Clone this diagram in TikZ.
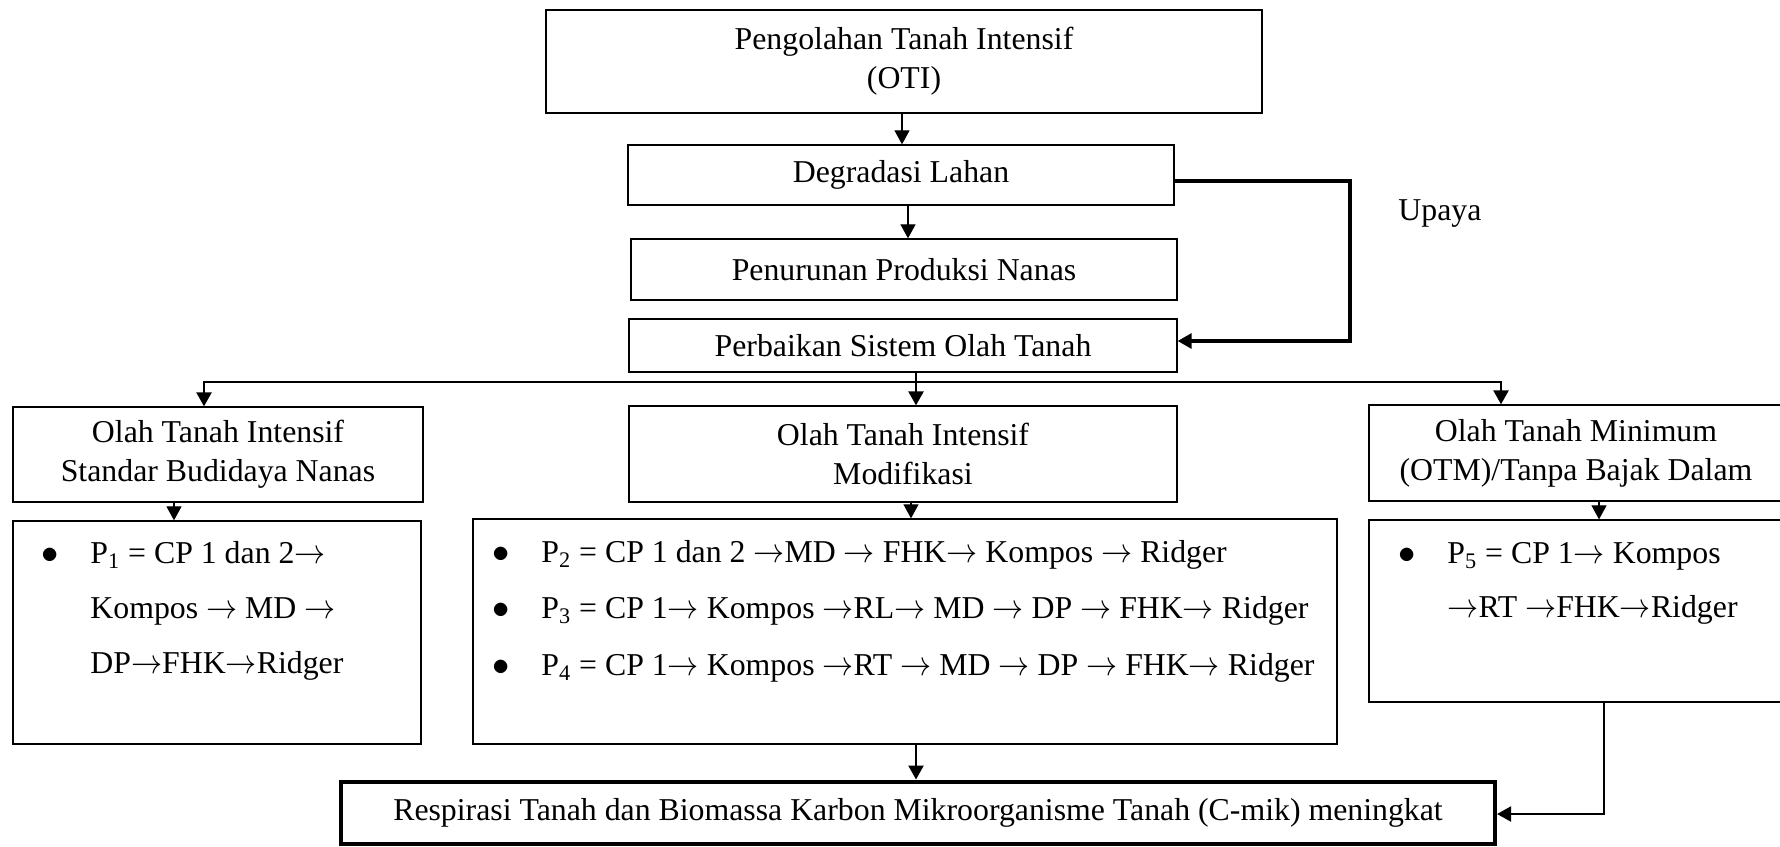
\documentclass[tikz,border=0pt]{standalone}
\usepackage{fontspec}
\usepackage{graphicx}
\setmainfont{Liberation Serif}
\usetikzlibrary{arrows.meta,calc}
\newcommand\dfont{\fontsize{15.9}{19.5}\selectfont}
\newcommand\ra{\scalebox{0.9}[1]{$\rightarrow$}}
\tikzset{
  bx/.style={draw, line width=0.65pt, inner sep=0pt, align=center, font=\dfont},
  txt/.style={inner sep=0pt, anchor=base west, font=\dfont},
  tip/.style={-{Triangle[length=7pt,width=7.5pt]}},
  thin/.style={line width=0.6pt},
  bus/.style={line width=1.2pt},
  loop/.style={line width=1.6pt},
}
\begin{document}
\begin{tikzpicture}[x=0.5pt,y=-0.5pt]
\useasboundingbox (0,0) rectangle (1780,846);
% boxes
\node[bx, minimum width=358pt, minimum height=51.5pt] (oti) at (904,61.5) {Pengolahan Tanah Intensif\\(OTI)};
\node[bx, minimum width=273pt, minimum height=30pt] (deg) at (901,175) {Degradasi Lahan};
\node[bx, minimum width=273pt, minimum height=30.5pt] (pen) at (904,269.5) {Penurunan Produksi Nanas};
\node[bx, minimum width=274pt, minimum height=26.5pt] (per) at (903,345.5) {Perbaikan Sistem Olah Tanah};
\node[bx, minimum width=205pt, minimum height=47.5pt] (std) at (218,454.5) {Olah Tanah Intensif\\Standar Budidaya Nanas};
\node[bx, minimum width=274pt, minimum height=48pt] (mod) at (903,454) {Olah Tanah Intensif\\Modifikasi};
\node[bx, minimum width=207pt, minimum height=48pt] (otm) at (1576,453) {Olah Tanah Minimum\\(OTM)/Tanpa Bajak Dalam};
\node[bx, minimum width=204pt, minimum height=111.5pt] (p1) at (217,632.5) {};
\node[bx, minimum width=432pt, minimum height=112.5pt] (p24) at (905,631.5) {};
\node[bx, minimum width=207pt, minimum height=91pt] (p5) at (1576,611) {};
\node[bx, line width=2pt, minimum width=577pt, minimum height=31pt] (res) at (918,812.5) {Respirasi Tanah dan Biomassa Karbon Mikroorganisme Tanah (C-mik) meningkat};
% label
\node[txt] (upaya) at (1398,220) {Upaya};
% list texts
\node[txt] (b1) at (41,563) {$\bullet$};
\node[txt] (p1a) at (90,563) {P\textsubscript{1} = CP 1 dan 2\ra};
\node[txt] (p1b) at (90,618) {Kompos {\ra} MD {\ra}};
\node[txt] (p1c) at (90,673) {DP\ra FHK\ra Ridger};
\node[txt] (b2) at (492,562) {$\bullet$};
\node[txt] (p2) at (541,562) {P\textsubscript{2} = CP 1 dan 2 {\ra}MD {\ra} FHK{\ra} Kompos {\ra} Ridger};
\node[txt] (b3) at (492,618) {$\bullet$};
\node[txt] (p3) at (541,618) {P\textsubscript{3} = CP 1{\ra} Kompos {\ra}RL{\ra} MD {\ra} DP {\ra} FHK{\ra} Ridger};
\node[txt] (b4) at (492,675) {$\bullet$};
\node[txt] (p4) at (541,675) {P\textsubscript{4} = CP 1{\ra} Kompos {\ra}RT {\ra} MD {\ra} DP {\ra} FHK{\ra} Ridger};
\node[txt] (b5) at (1398,563) {$\bullet$};
\node[txt] (p5a) at (1447,563) {P\textsubscript{5} = CP 1{\ra} Kompos};
\node[txt] (p5b) at (1447,617) {{\ra}RT {\ra}FHK{\ra}Ridger};
% coordinates
\coordinate (up) at (1350,181);
\coordinate (bl) at (204,382);
\coordinate (br) at (1501,382);
% connectors
\draw[thin,tip] ([xshift=-1pt]oti.south) -- ([xshift=-1pt]oti.south |- deg.north);
\draw[thin,tip] ([xshift=3.5pt]deg.south) -- ([xshift=3.5pt]deg.south |- pen.north);
\draw[loop,tip] ([yshift=-3pt]deg.east) -- (up) |- ([yshift=2.25pt]per.east);
\draw[bus,{Triangle[length=7pt,width=7.5pt]}-{Triangle[length=7pt,width=7.5pt]}] (bl |- std.north) -- (bl) -- (br) -- (br |- otm.north);
\draw[bus,tip] ([xshift=6.5pt]per.south) -- ([xshift=6.5pt]per.south |- mod.north);
\draw[thin,tip] ([xshift=-22pt]std.south) -- ([xshift=-22pt]std.south |- p1.north);
\draw[thin,tip] ([xshift=4pt]mod.south) -- ([xshift=4pt]mod.south |- p24.north);
\draw[thin,tip] ([xshift=11.5pt]otm.south) -- ([xshift=11.5pt]otm.south |- p5.north);
\draw[bus,tip] ([xshift=5.5pt]p24.south) -- ([xshift=5.5pt]p24.south |- res.north);
\draw[line width=1pt,tip] ([xshift=14pt]p5.south) |- ([yshift=-0.75pt]res.east);
\end{tikzpicture}
\end{document}
